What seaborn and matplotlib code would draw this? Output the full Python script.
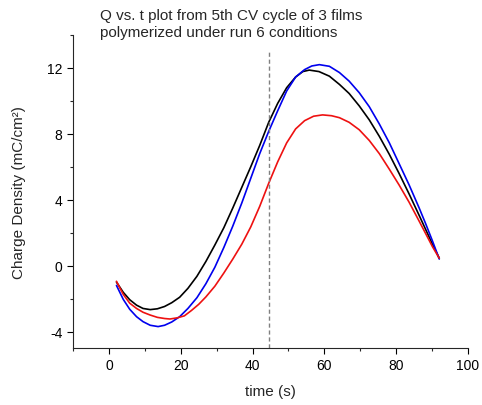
import matplotlib
matplotlib.use("Agg")
import matplotlib.pyplot as plt
from matplotlib.ticker import MultipleLocator, AutoMinorLocator
import pandas as pd
import seaborn as sns

# values
t_black = [2.1, 4.0, 5.8, 7.7, 9.5, 11.5, 13.5, 15.5, 17.5, 19.7, 22.0, 24.5, 27.0, 29.5, 32.0,
           34.5, 37.0, 39.5, 42.0, 44.5, 47.0, 49.5, 52.0, 54.0, 55.8, 58.5, 61.4, 64.2, 66.9,
           69.7, 72.5, 75.3, 78.1, 80.8, 83.6, 86.4, 88.2, 90.1, 92.0]
q_black = [-1.0, -1.62, -2.07, -2.4, -2.6, -2.67, -2.62, -2.48, -2.25, -1.92, -1.38, -0.65, 0.25, 1.25, 2.3,
           3.5, 4.75, 6.0, 7.3, 8.7, 9.85, 10.8, 11.45, 11.78, 11.87, 11.78, 11.5, 11.0, 10.45,
           9.7, 8.85, 7.85, 6.75, 5.6, 4.35, 3.05, 2.2, 1.3, 0.45]

t_blue = [2.1, 4.0, 5.8, 7.7, 9.5, 11.5, 13.7, 15.5, 17.5, 19.7, 22.0, 24.5, 27.0, 29.5, 32.0,
          34.5, 37.0, 39.5, 42.0, 44.5, 47.0, 49.5, 52.0, 54.5, 56.5, 58.6, 61.4, 64.2, 66.9,
          69.7, 72.5, 75.3, 78.1, 80.8, 83.6, 86.4, 88.2, 90.1, 92.0]
q_blue = [-1.2, -2.05, -2.65, -3.1, -3.4, -3.62, -3.7, -3.62, -3.42, -3.1, -2.6, -1.95, -1.1, -0.1, 1.1,
          2.4, 3.8, 5.3, 6.8, 8.15, 9.4, 10.6, 11.45, 11.9, 12.12, 12.2, 12.1, 11.72, 11.2,
          10.5, 9.65, 8.6, 7.45, 6.2, 4.9, 3.5, 2.55, 1.5, 0.4]

t_red = [2.1, 4.0, 5.8, 7.7, 9.5, 11.5, 13.5, 15.5, 17.0, 19.0, 21.0, 23.0, 25.0, 27.0, 29.5,
         32.0, 34.5, 37.0, 39.5, 42.0, 44.5, 47.0, 49.5, 52.0, 54.5, 57.0, 59.5, 62.0, 64.2,
         66.9, 69.7, 72.5, 75.3, 78.1, 80.8, 83.6, 86.4, 88.2, 90.1, 92.0]
q_red = [-0.95, -1.75, -2.28, -2.6, -2.83, -3.0, -3.14, -3.21, -3.24, -3.17, -3.05, -2.72, -2.35, -1.9, -1.25,
         -0.45, 0.4, 1.3, 2.35, 3.6, 5.0, 6.3, 7.45, 8.3, 8.8, 9.07, 9.15, 9.1, 8.98,
         8.7, 8.25, 7.6, 6.8, 5.85, 4.9, 3.85, 2.7, 1.95, 1.15, 0.45]

t_dash = 44.5

films = pd.concat([
    pd.DataFrame({"t": t_black, "Q": q_black, "film": "film 1"}),
    pd.DataFrame({"t": t_blue, "Q": q_blue, "film": "film 2"}),
    pd.DataFrame({"t": t_red, "Q": q_red, "film": "film 3"}),
])

sns.set_style("ticks")
plt.rcParams["font.family"] = ["Liberation Sans", "DejaVu Sans"]
plt.rcParams["axes.unicode_minus"] = False
plt.rcParams["xtick.direction"] = "out"
plt.rcParams["ytick.direction"] = "out"

fig = plt.figure(figsize=(4.82, 4.06), dpi=100)
ax = fig.add_axes([73/482, 1 - 349/406, 395/482, 313/406])

sns.lineplot(data=films, x="t", y="Q", hue="film", estimator=None, sort=True,
             palette={"film 1": "black", "film 2": "#0000ee", "film 3": "#ee1111"},
             linewidth=1.2, legend=False, ax=ax)
ax.axvline(t_dash, ymin=0, ymax=0.95, color="#808080", linestyle=(0, (3, 2)), linewidth=1)

ax.set_xlim(-10, 100)
ax.set_ylim(-5, 14)
ax.xaxis.set_major_locator(MultipleLocator(20))
ax.xaxis.set_minor_locator(AutoMinorLocator(2))
ax.yaxis.set_major_locator(MultipleLocator(4))
ax.yaxis.set_minor_locator(AutoMinorLocator(2))
ax.tick_params(which="major", length=4, width=0.8, labelsize=10, colors="black")
ax.tick_params(which="minor", length=2.5, width=0.8)
sns.despine(ax=ax)

ax.set_xlabel("time (s)", fontsize=11, labelpad=8)
ax.set_ylabel("Charge Density (mC/cm²)", fontsize=11)
ax.yaxis.set_label_coords(-0.12, 0.5)

fig.text(100/482, 1 - 9/406, "Q vs. t plot from 5th CV cycle of 3 films\npolymerized under run 6 conditions",
         fontsize=11, va="top", ha="left", linespacing=1.25)

fig.savefig("out.png", dpi=100)
